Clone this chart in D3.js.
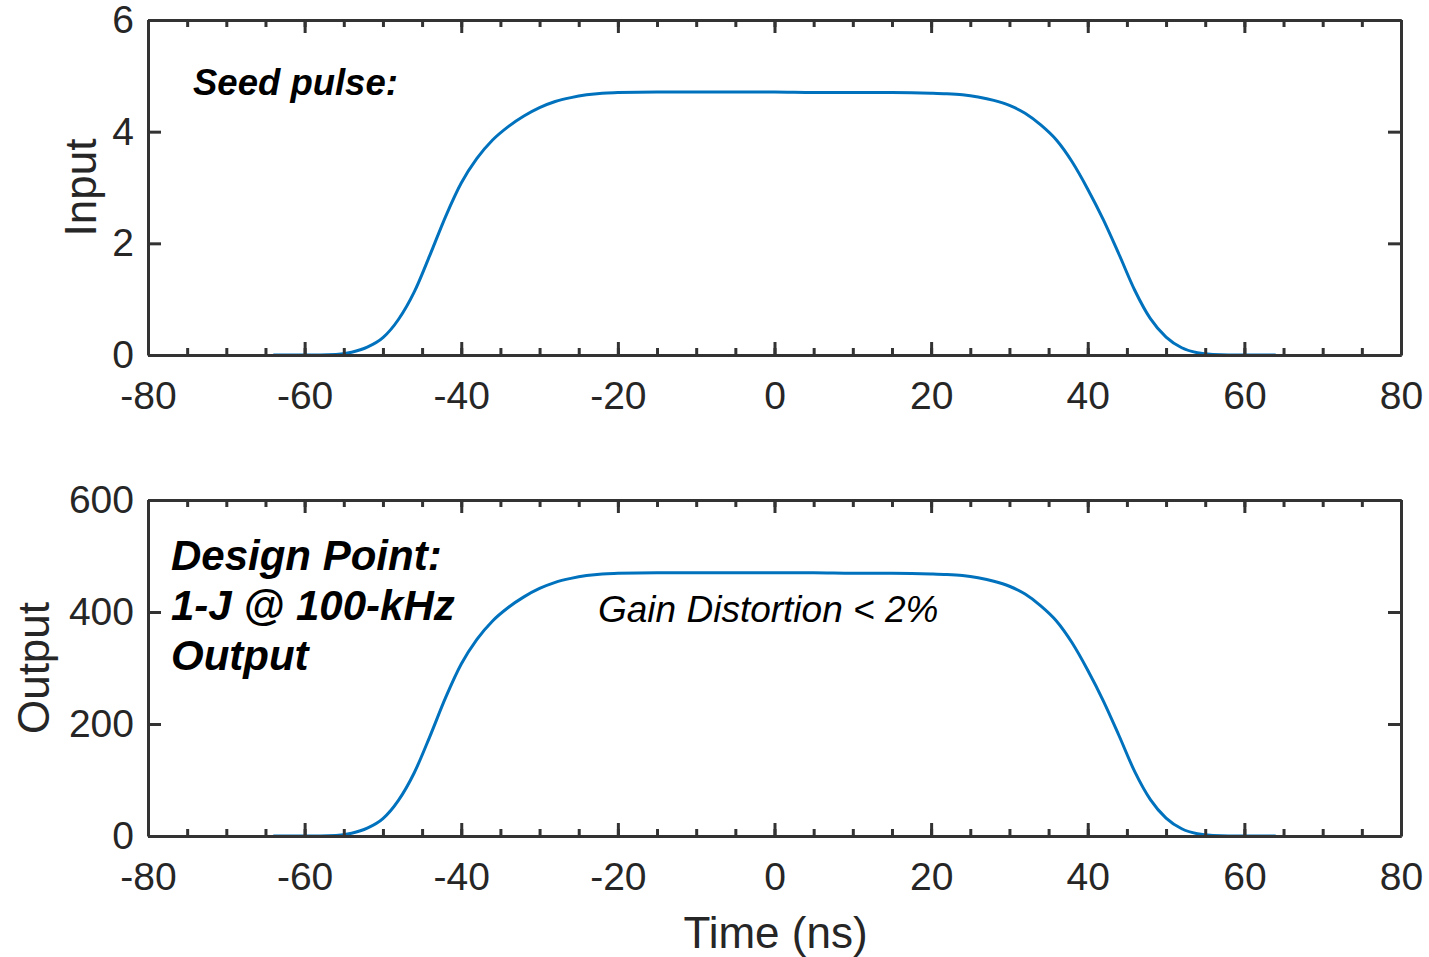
<!DOCTYPE html>
<html>
<head>
<meta charset="utf-8">
<script src="https://cdn.jsdelivr.net/npm/d3@7"></script>
<style>
  body { margin: 0; background: #fff; }
  svg { display: block; font-family: "Liberation Sans", Arial, Helvetica, sans-serif; }
</style>
</head>
<body>
<svg id="chart"></svg>
<script>
// time axis (ns)
const timeNs = [-64, -60, -56, -54, -52, -50, -48, -46, -44, -42, -40, -38, -36, -34, -32, -30, -28, -26, -24, -22, -20,
  -15, -10, -5, 0, 5, 10, 15, 20, 22, 24, 26, 28, 30, 32, 34, 36, 38, 40, 42, 44, 46, 48, 50, 52, 54, 56, 60, 64];

// seed pulse (top panel)
const inputVals = [0, 0, 0.01, 0.05, 0.14, 0.31, 0.64, 1.13, 1.79, 2.48, 3.08, 3.52, 3.85, 4.09, 4.28, 4.43, 4.54, 4.61, 4.66, 4.69, 4.70,
  4.71, 4.71, 4.71, 4.71, 4.70, 4.70, 4.70, 4.69, 4.68, 4.66, 4.62, 4.56, 4.47, 4.33, 4.12, 3.85, 3.46, 2.97, 2.42, 1.80, 1.16, 0.65, 0.32, 0.13, 0.04, 0.01, 0, 0];

// amplified output (bottom panel)
const outputVals = [0, 0, 1, 5, 14, 31, 64, 113, 178, 247, 307, 351, 384, 408, 427, 442, 453, 460, 465, 468, 469,
  470, 470, 470, 470, 470, 469, 469, 468, 467, 465, 461, 455, 446, 432, 411, 384, 345, 296, 241, 179, 115, 65, 32, 13, 4, 1, 0, 0];

const xTicks = [-80, -60, -40, -20, 0, 20, 40, 60, 80];
const inputTicks = [0, 2, 4, 6];
const outputTicks = [0, 200, 400, 600];

const W = 1429, H = 957;
const axisColor = '#333333';
const lineColor = '#0072BD';

const svg = d3.select('#chart').attr('width', W).attr('height', H);

const x = d3.scaleLinear().domain([-80, 80]).range([148, 1401]);
const fmt = d => String(d); // plain hyphen minus like the original

function panel(top, bottom, yMax, yTicks, vals, yLabel) {
  const y = d3.scaleLinear().domain([0, yMax]).range([bottom, top]);
  const g = svg.append('g');

  // curve
  const line = d3.line()
    .x((d, i) => x(timeNs[i]))
    .y(d => y(d))
    .curve(d3.curveMonotoneX);
  g.append('path')
    .datum(vals)
    .attr('fill', 'none')
    .attr('stroke', lineColor)
    .attr('stroke-width', 3)
    .attr('d', line);

  // bottom axis with labels
  g.append('g')
    .attr('transform', `translate(0,${bottom})`)
    .call(d3.axisBottom(x).tickValues(xTicks).tickSize(-13).tickSizeOuter(0).tickPadding(26).tickFormat(fmt));
  // minor ticks
  g.append('g')
    .attr('transform', `translate(0,${bottom})`)
    .call(d3.axisBottom(x).tickValues(d3.range(-80, 81, 5)).tickSize(-7).tickSizeOuter(0).tickFormat(''));
  // top edge
  g.append('g')
    .attr('transform', `translate(0,${top})`)
    .call(d3.axisTop(x).tickValues(xTicks).tickSize(-13).tickSizeOuter(0).tickFormat(''));
  g.append('g')
    .attr('transform', `translate(0,${top})`)
    .call(d3.axisTop(x).tickValues(d3.range(-80, 81, 5)).tickSize(-7).tickSizeOuter(0).tickFormat(''));
  // left
  g.append('g')
    .attr('transform', `translate(${x(-80)},0)`)
    .call(d3.axisLeft(y).tickValues(yTicks).tickSize(-13).tickSizeOuter(0).tickPadding(14).tickFormat(fmt));
  // right
  g.append('g')
    .attr('transform', `translate(${x(80)},0)`)
    .call(d3.axisRight(y).tickValues(yTicks).tickSize(-13).tickSizeOuter(0).tickFormat(''));

  g.selectAll('.domain, .tick line')
    .attr('stroke', axisColor)
    .attr('stroke-width', 3);
  g.selectAll('.tick text')
    .attr('fill', '#262626')
    .style('font-size', '39px');

  g.append('text')
    .attr('transform', `translate(${yLabel.x},${(top + bottom) / 2}) rotate(-90)`)
    .attr('text-anchor', 'middle')
    .attr('fill', '#262626')
    .style('font-size', '44px')
    .text(yLabel.text);
  return y;
}

panel(20, 355, 6, inputTicks, inputVals, { x: 96, text: 'Input' });
panel(500, 836, 600, outputTicks, outputVals, { x: 49, text: 'Output' });

svg.append('text')
  .attr('x', x(0) + 1)
  .attr('y', 948)
  .attr('text-anchor', 'middle')
  .attr('fill', '#262626')
  .style('font-size', '44px')
  .text('Time (ns)');

// annotations
svg.append('text')
  .attr('x', 193).attr('y', 95)
  .style('font-size', '36.5px').style('font-weight', 'bold').style('font-style', 'italic')
  .text('Seed pulse:');

const design = ['Design Point:', '1-J @ 100-kHz', 'Output'];
svg.append('g').selectAll('text')
  .data(design)
  .enter().append('text')
  .attr('x', 171)
  .attr('y', (d, i) => 570 + i * 50)
  .style('font-size', '42px').style('font-weight', 'bold').style('font-style', 'italic')
  .text(d => d);

svg.append('text')
  .attr('x', 598).attr('y', 622)
  .style('font-size', '37px').style('font-style', 'italic')
  .text('Gain Distortion < 2%');
</script>
</body>
</html>
